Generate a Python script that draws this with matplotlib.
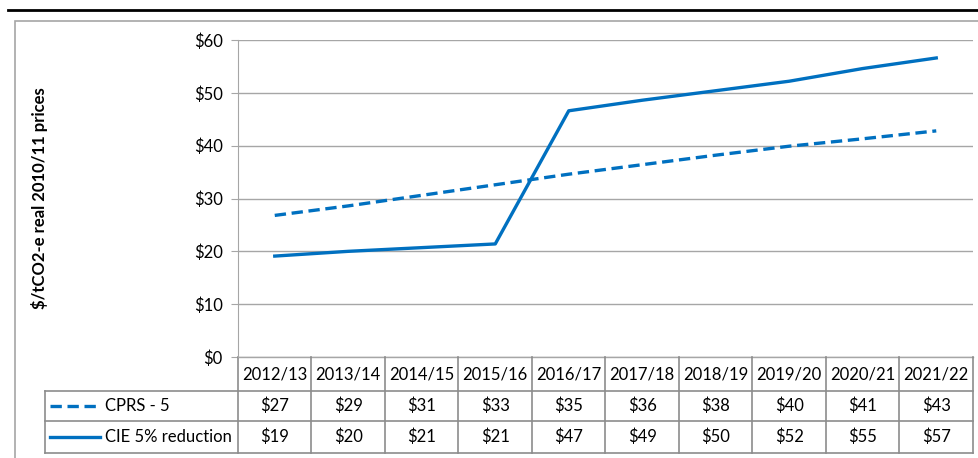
"""
Carbon price comparison: CPRS - 5 vs CIE 5% reduction, with a data table under the axis
"""
import matplotlib
matplotlib.use('Agg')
import matplotlib.pyplot as plt
from matplotlib.lines import Line2D
from matplotlib.patches import Rectangle

years = ['2012/13', '2013/14', '2014/15', '2015/16', '2016/17',
         '2017/18', '2018/19', '2019/20', '2020/21', '2021/22']
cprs = [26.8, 28.6, 30.6, 32.6, 34.6, 36.4, 38.2, 39.9, 41.3, 42.8]
cie = [19.1, 20.0, 20.7, 21.4, 46.6, 48.6, 50.4, 52.2, 54.6, 56.6]
series_names = ['CPRS - 5', 'CIE 5% reduction']
yticks = [0, 10, 20, 30, 40, 50, 60]

BLUE = '#0070C0'
GRID = '#A6A6A6'
TBL = '#8C8C8C'
FS = 12
plt.rcParams['font.family'] = ['Lato', 'DejaVu Sans']

W, H = 979, 458
fig = plt.figure(figsize=(W / 100, H / 100), dpi=100)

# page rule and outer chart frame (pixel coords -> figure fraction)
fig.add_artist(Line2D([8 / W, 1], [1 - 10 / H] * 2, color='black', lw=2))
fig.add_artist(Rectangle((15 / W, -0.05), 1, 1 - 21 / H + 0.05, fill=False,
                         edgecolor=GRID, lw=1.2))

left, right, top, bottom = 238, 973, 40, 357
ax = fig.add_axes([left / W, 1 - bottom / H, (right - left) / W, (bottom - top) / H])

dash = (0, (3.4, 1.7))
x = list(range(len(years)))
ax.plot(x, cprs, color=BLUE, lw=2.4, ls=dash)
ax.plot(x, cie, color=BLUE, lw=2.4)

ax.set_xlim(-0.5, len(years) - 0.5)
ax.set_ylim(0, 60)
ax.set_yticks(yticks)
ax.set_yticklabels([f'${t}' for t in yticks], fontsize=FS)
ax.set_xticks([])
ax.yaxis.grid(True, color=GRID, lw=1)
ax.set_axisbelow(True)
for s in ['top', 'right', 'bottom']:
    ax.spines[s].set_visible(False)
ax.spines['left'].set_color(GRID)
ax.tick_params(axis='y', color=GRID, length=5, pad=6)
ax.axhline(0, color=GRID, lw=1, clip_on=False)

ax.set_ylabel('$/tCO2-e real 2010/11 prices', fontsize=FS, fontweight='bold', labelpad=0)
ax.yaxis.set_label_coords(-(left - 48) / (right - left), 0.5)

# data table below the axis
ph = bottom - top
def ay(py):
    return -(py - bottom) / ph

row_edges = [357, 391, 421, 453]
leg_left = -0.5 - (left - 45) / 73.5
xt = ax.get_xaxis_transform()
kw = dict(color=TBL, lw=1.2, clip_on=False, transform=xt)

for i in range(len(years) + 1):
    ax.plot([i - 0.5, i - 0.5], [ay(357), ay(453)], **kw)
ax.plot([leg_left, leg_left], [ay(391), ay(453)], **kw)
for py in row_edges[1:]:
    ax.plot([leg_left, len(years) - 0.5], [ay(py), ay(py)], **kw)

tk = dict(transform=xt, ha='center', va='center', fontsize=FS)
for i, yr in enumerate(years):
    ax.text(i, ay(374), yr, **tk)
    ax.text(i, ay(406), f'${cprs[i]:.0f}', **tk)
    ax.text(i, ay(437), f'${cie[i]:.0f}', **tk)

# legend keys inside the table
sample_x0 = -0.5 - (left - 50) / 73.5
sample_x1 = -0.5 - (left - 100) / 73.5
text_x = -0.5 - (left - 105) / 73.5
ax.plot([sample_x0, sample_x1], [ay(406)] * 2, color=BLUE, lw=2.4, ls=dash,
        clip_on=False, transform=xt)
ax.plot([sample_x0, sample_x1], [ay(437)] * 2, color=BLUE, lw=2.4,
        clip_on=False, transform=xt)
ax.text(text_x, ay(406), series_names[0], transform=xt, ha='left', va='center', fontsize=FS)
ax.text(text_x, ay(437), series_names[1], transform=xt, ha='left', va='center', fontsize=FS)

fig.savefig('out.png', dpi=100)
